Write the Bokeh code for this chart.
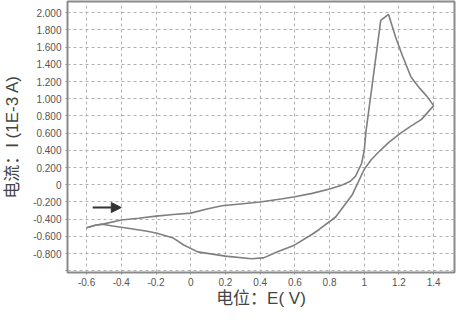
from bokeh.plotting import figure
from bokeh.models import FixedTicker, Arrow, NormalHead, Range1d
from bokeh.embed import file_html
from bokeh.resources import INLINE

# Forward scan (-0.6 V -> 1.4 V)
fwd_e = [-0.60, -0.55, -0.50, -0.40, -0.30, -0.20, -0.10, 0.00, 0.10, 0.18, 0.30, 0.40,
         0.52, 0.60, 0.70, 0.80, 0.865, 0.92, 0.95, 0.985, 1.00, 1.01, 1.095, 1.14,
         1.18, 1.22, 1.27, 1.32, 1.36, 1.40]
fwd_i = [-0.50, -0.47, -0.455, -0.41, -0.39, -0.365, -0.345, -0.33, -0.28, -0.245, -0.22, -0.20,
         -0.165, -0.14, -0.10, -0.05, -0.01, 0.04, 0.10, 0.25, 0.40, 0.62, 1.91, 1.98,
         1.72, 1.50, 1.25, 1.12, 1.03, 0.92]
# Reverse scan (1.4 V -> -0.6 V)
rev_e = [1.40, 1.33, 1.26, 1.20, 1.14, 1.08, 1.04, 1.00, 0.93, 0.835, 0.74, 0.70, 0.59,
         0.50, 0.42, 0.35, 0.20, 0.04, -0.04, -0.10, -0.20, -0.25, -0.38, -0.45, -0.51,
         -0.55, -0.60]
rev_i = [0.92, 0.76, 0.67, 0.585, 0.49, 0.375, 0.29, 0.18, -0.12, -0.375, -0.52, -0.575, -0.71,
         -0.78, -0.85, -0.86, -0.83, -0.78, -0.70, -0.62, -0.56, -0.54, -0.50, -0.48, -0.46,
         -0.47, -0.50]

x_ticks = [-0.6, -0.4, -0.2, 0.0, 0.2, 0.4, 0.6, 0.8, 1.0, 1.2, 1.4]
x_labels = ["-0.6", "-0.4", "-0.2", "0", "0.2", "0.4", "0.6", "0.8", "1", "1.2", "1.4"]
y_ticks = [-1.0, -0.8, -0.6, -0.4, -0.2, 0.0, 0.2, 0.4, 0.6, 0.8, 1.0, 1.2, 1.4, 1.6, 1.8, 2.0]
y_labels = ["", "-0.800", "-0.600", "-0.400", "-0.200", "0", "0.200", "0.400", "0.600",
            "0.800", "1.000", "1.200", "1.400", "1.600", "1.800", "2.000"]

arrow_e = [-0.565, -0.40]
arrow_i = [-0.265, -0.265]

FONT = "Liberation Sans, Noto Sans CJK SC"

p = figure(width=458, height=310, output_backend="svg", toolbar_location=None,
           x_range=Range1d(-0.71, 1.52), y_range=Range1d(-1.02, 2.13),
           min_border_left=10, min_border_right=4, min_border_top=1, min_border_bottom=0)
p.background_fill_color = "white"
p.border_fill_color = "white"
p.outline_line_color = "#8a8a8a"
p.outline_line_width = 2

p.line(fwd_e, fwd_i, line_color="#7f7f7f", line_width=1.6)
p.line(rev_e, rev_i, line_color="#7f7f7f", line_width=1.6)

p.add_layout(Arrow(end=NormalHead(size=10, fill_color="#333333", line_color="#333333"),
                   x_start=arrow_e[0], y_start=arrow_i[0], x_end=arrow_e[1], y_end=arrow_i[1],
                   line_color="#333333", line_width=2))

p.xaxis.ticker = FixedTicker(ticks=x_ticks)
p.yaxis.ticker = FixedTicker(ticks=y_ticks)
p.xaxis.major_label_overrides = {t: l for t, l in zip(x_ticks, x_labels)}
p.yaxis.major_label_overrides = {t: l for t, l in zip(y_ticks, y_labels)}

for ax in (p.xaxis[0], p.yaxis[0]):
    ax.axis_line_color = None
    ax.major_tick_line_color = "#8a8a8a"
    ax.major_tick_in = 0
    ax.major_tick_out = 2
    ax.minor_tick_line_color = None
    ax.major_label_text_font = FONT
    ax.major_label_text_font_size = "10px"
    ax.major_label_text_color = "#555555"
    ax.axis_label_text_font = FONT
    ax.axis_label_text_font_size = "17px"
    ax.axis_label_text_font_style = "normal"
    ax.axis_label_text_color = "#444444"

p.xaxis.axis_label = "电位：E( V)"
p.yaxis.axis_label = "电流：I (1E-3 A)"
p.xaxis.major_label_standoff = 3
p.yaxis.major_label_standoff = 4
p.xaxis.axis_label_standoff = 0
p.yaxis.axis_label_standoff = 8
p.xaxis.axis_label_text_line_height = 0.9
p.xaxis.major_label_text_line_height = 0.9

p.grid.grid_line_color = "#b0b0b0"
p.grid.grid_line_dash = "3 3"
p.grid.grid_line_width = 1

open("out.html", "w").write(file_html(p, INLINE))
